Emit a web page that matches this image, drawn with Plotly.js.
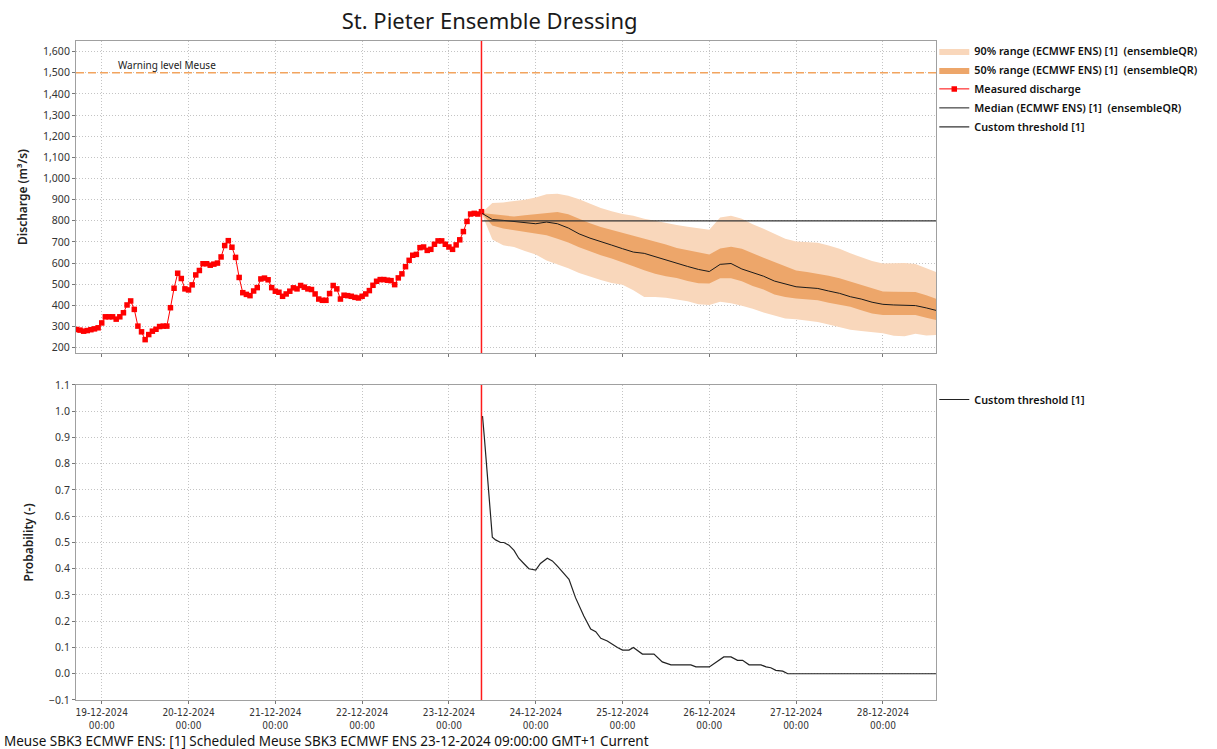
<!DOCTYPE html>
<html>
<head>
<meta charset="utf-8">
<script src="https://cdn.plot.ly/plotly-3.0.1.min.js"></script>
<style>html,body{margin:0;padding:0;background:#fff;}#chart{width:1217px;height:749px;}</style>
</head>
<body>
<div id="chart"></div>
<script>
// ---------- DATA ----------
const measuredStartUTC = [2024, 11, 18, 17]; // 18-12-2024 17:00, hourly values
const measuredDischarge = [
  286,283,278,281,285,289,294,
  317,346,346,346,335,346,365,402,421,381,
  302,275,238,262,278,287,300,302,302,389,
  481,552,527,478,473,497,544,565,597,597,
  590,595,600,629,683,706,675,627,532,460,
  452,446,468,484,525,529,521,484,
  467,462,443,454,467,483,478,494,486,478,
  475,454,430,424,424,456,494,478,430,448,
  446,443,438,435,443,454,470,495,514,522,
  522,519,517,498,530,549,583,613,637,641,
  673,676,660,665,689,705,705,689,676,665,
  686,710,749,797,832,835,832,843
];

const forecastStartUTC = [2024, 11, 23, 9]; // 23-12-2024 09:00
const forecastHours = [0,3,6,9,12,15,18,21,24,27,30,33,36,39,42,45,48,51,54,57,60,63,66,69,72,75,78,81,84,87,90,93,96,99,102,105,108,111,114,117,120,123,126];
const q95 = [837,884,887,892,899,910,925,928,918,902,880,861,845,832,824,810,800,789,780,772,764,757,815,824,810,784,762,740,715,702,700,696,683,668,646,627,610,598,598,600,596,576,556];
const q75 = [837,832,825,820,826,832,838,842,831,810,788,771,757,745,730,717,700,688,671,660,648,640,669,677,668,645,625,605,585,565,558,550,540,528,512,496,480,466,465,465,463,448,430];
const median = [837,806,802,796,790,786,794,786,766,738,718,700,685,668,652,646,630,616,600,584,570,560,594,598,572,556,538,515,500,488,484,480,468,457,441,430,415,405,402,401,399,388,375];
const q25 = [837,778,764,756,745,740,732,715,697,675,655,637,622,605,585,566,550,538,529,515,505,503,528,528,514,492,475,452,440,433,428,424,413,404,394,377,362,354,354,354,354,342,330];
const q05 = [837,712,684,676,657,640,612,595,575,553,535,520,506,497,472,440,440,436,428,420,405,402,417,410,398,384,366,352,338,334,328,322,310,298,285,279,274,268,256,254,266,258,260];

const customThreshold = 800;
const warningLevel = 1500;

const probHours = [0,0.3,0.8,1.6,2.2,3,3.9,5.3,6.2,7.6,9,10.3,11.7,13.1,15,16.3,18.2,19.6,21,22.8,24.2,26,28.3,30.2,31.6,33,34.8,37.6,39,40.8,42,44.5,47.7,50,52.4,57.9,59.3,63,65.3,67,69,70.8,72.2,74,77.3,78.7,80,81.4,83.3,84.7,126];
const probValues = [0.98,0.98,0.90,0.77,0.64,0.52,0.51,0.50,0.50,0.49,0.47,0.44,0.42,0.40,0.395,0.42,0.44,0.43,0.41,0.38,0.36,0.29,0.22,0.17,0.16,0.135,0.125,0.10,0.09,0.09,0.10,0.075,0.075,0.045,0.034,0.034,0.026,0.026,0.047,0.064,0.064,0.051,0.051,0.034,0.034,0.026,0.023,0.013,0.01,0.0,0.0];

const dayTicks = ['2024-12-19','2024-12-20','2024-12-21','2024-12-22','2024-12-23','2024-12-24','2024-12-25','2024-12-26','2024-12-27','2024-12-28'];
const dayTickText = ['19-12-2024','20-12-2024','21-12-2024','22-12-2024','23-12-2024','24-12-2024','25-12-2024','26-12-2024','27-12-2024','28-12-2024'];
const xRange = ['2024-12-18 16:53', '2024-12-28 14:41'];

// ---------- HELPERS ----------
function stamp(base, h) {
  const d = new Date(Date.UTC(base[0], base[1], base[2], base[3]) + h * 3600000);
  return d.toISOString().slice(0, 16).replace('T', ' ');
}
const measuredTimes = measuredDischarge.map((_, i) => stamp(measuredStartUTC, i));
const forecastTimes = forecastHours.map(h => stamp(forecastStartUTC, h));
const probTimes = probHours.map(h => stamp(forecastStartUTC, h));
const forecastStart = stamp(forecastStartUTC, 0);

const FONT = 'Noto Sans, Open Sans, sans-serif';
const NARROW = 'DejaVu Sans Condensed, Liberation Sans Narrow, sans-serif';
const lightOrange = '#f9d7bb';
const darkOrange = '#eda66a';

const traces = [
  {x: forecastTimes, y: q05, xaxis:'x', yaxis:'y', mode:'lines', line:{width:0, color:lightOrange}, showlegend:false, hoverinfo:'skip'},
  {x: forecastTimes, y: q95, xaxis:'x', yaxis:'y', mode:'lines', fill:'tonexty', fillcolor:lightOrange, line:{width:0, color:lightOrange},
   name:'90% range (ECMWF ENS) [1]  (ensembleQR)', legend:'legend', legendgroup:'g1'},
  {x: forecastTimes, y: q25, xaxis:'x', yaxis:'y', mode:'lines', line:{width:0, color:darkOrange}, showlegend:false, hoverinfo:'skip'},
  {x: forecastTimes, y: q75, xaxis:'x', yaxis:'y', mode:'lines', fill:'tonexty', fillcolor:darkOrange, line:{width:0, color:darkOrange},
   name:'50% range (ECMWF ENS) [1]  (ensembleQR)', legend:'legend', legendgroup:'g2'},
  {x: measuredTimes, y: measuredDischarge, xaxis:'x', yaxis:'y', mode:'lines+markers', line:{color:'#ff0000', width:1},
   marker:{symbol:'square', size:5.5, color:'#ff0000'}, name:'Measured discharge', legend:'legend', legendgroup:'g3'},
  {x: forecastTimes, y: median, xaxis:'x', yaxis:'y', mode:'lines', line:{color:'#1a1a1a', width:1},
   name:'Median (ECMWF ENS) [1]  (ensembleQR)', legend:'legend', legendgroup:'g4'},
  {x: forecastTimes, y: forecastTimes.map(() => customThreshold), xaxis:'x', yaxis:'y', mode:'lines', line:{color:'#333333', width:1.2},
   name:'Custom threshold [1]', legend:'legend', legendgroup:'g5'},
  {x: probTimes, y: probValues, xaxis:'x2', yaxis:'y2', mode:'lines', line:{color:'#222222', width:1.2},
   name:'Custom threshold [1]', legend:'legend2'}
];

const gridStyle = {showgrid:true, gridcolor:'#c4c4c4', griddash:'1px,2px', gridwidth:1,
  showline:true, linecolor:'#a0a0a0', linewidth:1, mirror:true, zeroline:false,
  ticks:'outside', ticklen:3, tickcolor:'#777'};

const legendFont = {family:FONT, size:10.8, color:'#111', weight:600};

const layout = {
  width:1217, height:749, autosize:false,
  paper_bgcolor:'#ffffff', plot_bgcolor:'#ffffff',
  margin:{l:76, r:281, t:41, b:49, autoexpand:false},
  font:{family:FONT, color:'#222'},
  title:{text:'St. Pieter Ensemble Dressing', font:{family:FONT, size:22, color:'#1a1a1a'},
    x:0.481, xanchor:'center', xref:'paper', y:0.972, yanchor:'middle', yref:'container'},
  xaxis: Object.assign({}, gridStyle, {type:'date', range:xRange, domain:[0,1], anchor:'y',
    tickvals:dayTicks, ticktext:dayTickText, showticklabels:false, matches:'x2'}),
  yaxis: Object.assign({}, gridStyle, {domain:[0.5266,1], anchor:'x', range:[175,1650], dtick:100, tick0:0,
    tickformat:',d', tickfont:{family:FONT, size:10.5, color:'#333'},
    title:{text:'Discharge (m³/s)', font:{family:FONT, size:12, color:'#222', weight:600}, standoff:12}}),
  xaxis2: Object.assign({}, gridStyle, {type:'date', range:xRange, domain:[0,1], anchor:'y2',
    tickvals:dayTicks, ticktext:dayTickText.map(t => t + '<br>00:00'),
    tickfont:{family:NARROW, size:10, color:'#333'}, tickangle:0}),
  yaxis2: Object.assign({}, gridStyle, {domain:[0,0.478], anchor:'x2', range:[-0.1,1.1], dtick:0.1, tick0:0,
    tickformat:'.1f', tickfont:{family:FONT, size:10.5, color:'#333'},
    title:{text:'Probability (-)', font:{family:FONT, size:12, color:'#222', weight:600}, standoff:12}}),
  legend:{x:0.998, xanchor:'left', y:1.007, yanchor:'top', xref:'paper', yref:'paper', traceorder:'normal',
    font:legendFont, itemwidth:30, bgcolor:'rgba(0,0,0,0)', tracegroupgap:7.5},
  legend2:{x:0.998, xanchor:'left', y:0.478, yanchor:'top', xref:'paper', yref:'paper', traceorder:'normal',
    font:legendFont, itemwidth:30, bgcolor:'rgba(0,0,0,0)'},
  shapes:[
    {type:'line', xref:'x domain', x0:0, x1:1, yref:'y', y0:warningLevel, y1:warningLevel,
      line:{color:'#f2a45e', width:1.3, dash:'8px,4px'}},
    {type:'line', xref:'x', x0:forecastStart, x1:forecastStart, yref:'y domain', y0:0, y1:1,
      line:{color:'#ff1a1a', width:1.5}},
    {type:'line', xref:'x2', x0:forecastStart, x1:forecastStart, yref:'y2 domain', y0:0, y1:1,
      line:{color:'#ff1a1a', width:1.5}}
  ],
  annotations:[
    {text:'Warning level Meuse', xref:'x domain', x:0.046, xanchor:'left', yref:'y', y:warningLevel,
      yanchor:'bottom', yshift:-1, showarrow:false, font:{family:FONT, size:10, color:'#222'}},
    {text:'Meuse SBK3 ECMWF ENS: [1] Scheduled Meuse SBK3 ECMWF ENS 23-12-2024 09:00:00 GMT+1 Current',
      xref:'paper', x:-0.086, xanchor:'left', yref:'paper', y:-0.062, yanchor:'middle', showarrow:false,
      font:{family:FONT, size:13.5, color:'#111'}}
  ],
  showlegend:true,
  hovermode:false
};

Plotly.newPlot('chart', traces, layout, {staticPlot:true, displayModeBar:false});
</script>
</body>
</html>
